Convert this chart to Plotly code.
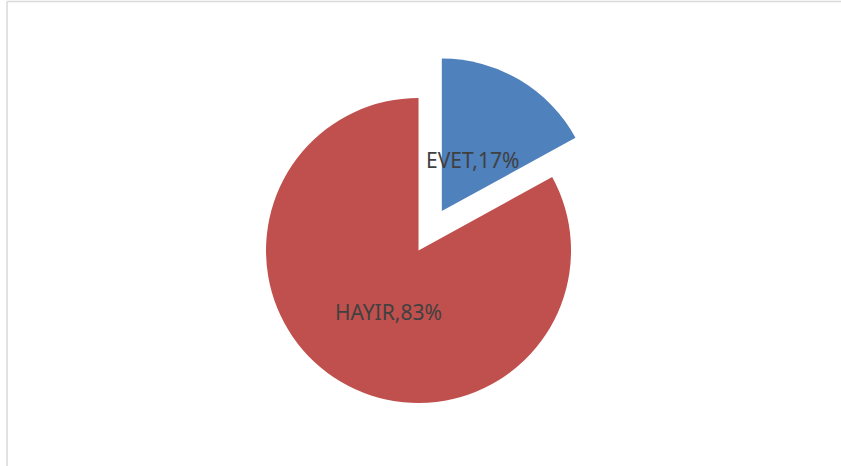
import plotly.graph_objects as go

labels = ["EVET", "HAYIR"]
values = [17, 83]
colors = ["#4F81BD", "#C0504D"]
pulls = [0.3, 0]
label_pos = [(0.562, 1 - 159.5 / 466), (0.4615, 1 - 311.5 / 466)]

fig = go.Figure()
fig.add_trace(go.Pie(
    labels=labels,
    values=values,
    sort=False,
    direction="clockwise",
    rotation=0,
    pull=pulls,
    marker=dict(colors=colors, line=dict(width=0)),
    textinfo="none",
    hoverinfo="label+percent",
    showlegend=False,
    domain=dict(x=[0.2619, 0.7334], y=[0.0370, 0.8879]),
))

for lab, val, (x, y) in zip(labels, values, label_pos):
    fig.add_annotation(
        x=x, y=y, xref="paper", yref="paper",
        text=f"{lab},{round(100 * val / sum(values))}%",
        showarrow=False,
        font=dict(family="Noto Sans", size=21, color="#404040"),
        xanchor="center", yanchor="middle",
    )

fig.add_shape(type="line", xref="paper", yref="paper",
              x0=7 / 841, x1=1, y0=1 - 1.5 / 466, y1=1 - 1.5 / 466,
              line=dict(color="#D9D9D9", width=1.5))
fig.add_shape(type="line", xref="paper", yref="paper",
              x0=7 / 841, x1=7 / 841, y0=0, y1=1 - 1.5 / 466,
              line=dict(color="#D9D9D9", width=1.5))

fig.update_layout(
    width=841, height=466,
    margin=dict(l=0, r=0, t=0, b=0),
    paper_bgcolor="white",
    plot_bgcolor="white",
)

fig.write_html(
    "out.html",
    config={"displayModeBar": False},
    post_script="document.body.style.margin='0';document.body.style.overflow='hidden';",
)
